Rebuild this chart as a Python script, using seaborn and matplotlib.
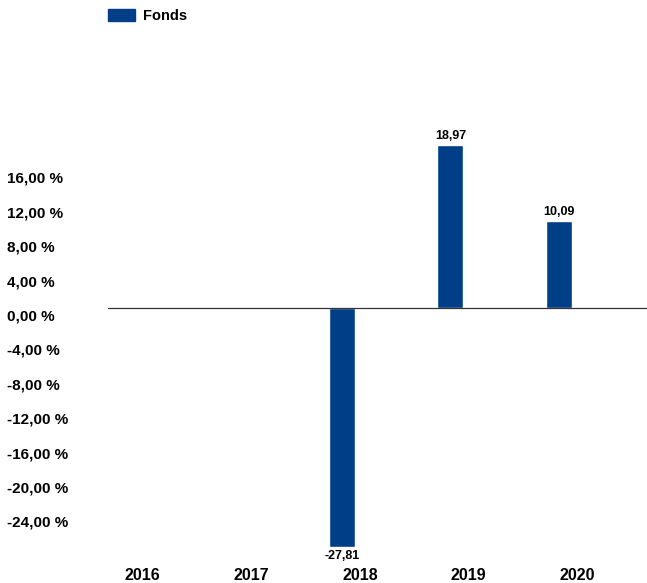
import numpy as np
import pandas as pd
import matplotlib
matplotlib.use("Agg")
import matplotlib.pyplot as plt
import matplotlib.transforms as mtransforms
from matplotlib.patches import Patch
import seaborn as sns

sns.set_style("white")
plt.rcParams["font.family"] = ["Liberation Sans", "DejaVu Sans"]
plt.rcParams["text.color"] = "black"
plt.rcParams["xtick.color"] = "black"
plt.rcParams["ytick.color"] = "black"

years = ["2016", "2017", "2018", "2019", "2020"]
fonds = [np.nan, np.nan, -27.81, 18.97, 10.09]
series = ["Fonds", "Index"]
yticks = [-24, -20, -16, -12, -8, -4, 0, 4, 8, 12, 16]

BLUE = "#003F88"

df = pd.DataFrame({"Jahr": years, "Wert": fonds, "Serie": "Fonds"}).dropna()

fig = plt.figure(figsize=(6.47, 5.83), dpi=100)
W, H = 647, 583
ax = fig.add_axes([108 / W, 1 - 560 / H, (647 - 108) / W, (560 - 60) / H])

sns.barplot(data=df, x="Jahr", y="Wert", hue="Serie", hue_order=series,
            order=years, palette={"Fonds": BLUE, "Index": "#999999"},
            width=0.664, gap=0.277, dodge=True, legend=False,
            saturation=1, errorbar=None, ax=ax)

ax.set_xlim(-0.32, 4.645)
ax.set_ylim(-29.3, 28.84)
ax.axhline(0, color="#333333", lw=0.9, zorder=3)

for s in ax.spines.values():
    s.set_visible(False)

ax.set_yticks(yticks)
ax.set_yticklabels([f"{v:.2f}".replace(".", ",") + " %" for v in yticks],
                   ha="left", fontsize=11, fontweight="bold")
ax.tick_params(axis="y", length=0, pad=73)
ax.tick_params(axis="x", length=0, pad=5.5)
# labels sit a bit below their tick values in the original
shift = mtransforms.ScaledTranslation(0, -7 / 100, fig.dpi_scale_trans)
for t in ax.get_yticklabels():
    t.set_transform(t.get_transform() + shift)
for t in ax.get_xticklabels():
    t.set_fontsize(11.5)
    t.set_fontweight("bold")
ax.set_xlabel("")
ax.set_ylabel("")

cont = ax.containers[0]
labels = [f"{v:.2f}".replace(".", ",") for v in df["Wert"]]
ax.bar_label(cont, labels=labels, padding=2, fontsize=9, fontweight="bold",
             color="black")

handles = [Patch(facecolor=BLUE, edgecolor=BLUE, label="Fonds")]
fig.legend(handles=handles, loc="upper left", bbox_to_anchor=(98 / W, 1 + 1 / H),
           frameon=False, handlelength=1.85, handleheight=0.9,
           handletextpad=0.55, borderpad=0.2,
           prop={"size": 10.5, "weight": "bold"})

fig.savefig("out.png", dpi=100)
